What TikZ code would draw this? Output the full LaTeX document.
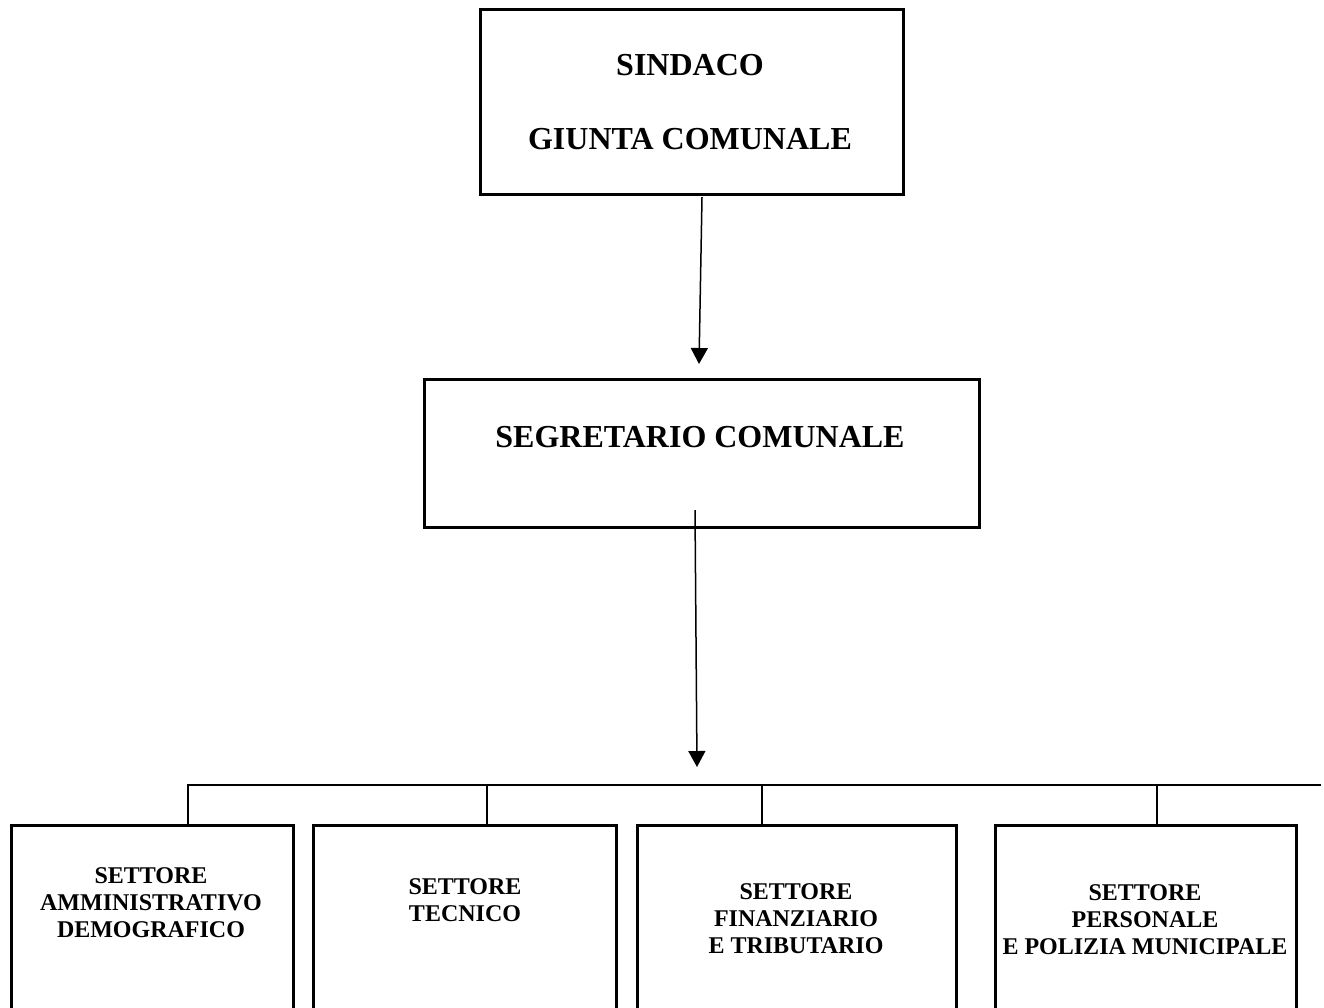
\documentclass[tikz,border=0pt]{standalone}
\usepackage{fontspec}
\setmainfont{Liberation Serif}
\usetikzlibrary{arrows.meta}
\tikzset{
  boxline/.style={draw=black, line width=2.5pt},
  arrowline/.style={draw=black, line width=1.5pt, -{Triangle[length=16pt,width=17pt]}},
  branch/.style={draw=black, line width=2.3pt},
  bigtext/.style={font=\fontsize{32}{34}\selectfont\bfseries, inner sep=0pt, anchor=base},
  smalltext/.style={font=\fontsize{24}{27.3}\selectfont\bfseries, inner sep=0pt, align=center, anchor=north},
}
\begin{document}
\begin{tikzpicture}[x=1pt,y=-1pt]
\useasboundingbox (0,0) rectangle (1324,1007);
\fill[white] (0,0) rectangle (1324,1007);
\clip (0,0) rectangle (1324,1007);

% top box
\node[boxline, inner sep=0pt, minimum width=423pt, minimum height=185pt, anchor=north west] (sind) at (479,8) {};
\node[bigtext] (t1) at (690,75) {SINDACO};
\node[bigtext] (t2) at (690,149) {GIUNTA COMUNALE};

% middle box
\node[boxline, inner sep=0pt, minimum width=555pt, minimum height=148pt, anchor=north west] (segr) at (423,378) {};
\node[bigtext] (t3) at (700,447) {SEGRETARIO COMUNALE};

% arrows
\coordinate (a1s) at (702,197);
\coordinate (a1e) at (699,364);
\draw[arrowline] (a1s) -- (a1e);
\coordinate (a2s) at (695,510);
\coordinate (a2e) at (697,767);
\draw[arrowline] (a2s) -- (a2e);

% horizontal bar
\coordinate (hl) at (187,785);
\coordinate (hr) at (1321,785);
\draw[branch] (hl) -- (hr);

% bottom boxes (cut by page bottom)
\node[boxline, inner sep=0pt, minimum width=282pt, minimum height=220pt, anchor=north west] (b1) at (10,824) {};
\node[boxline, inner sep=0pt, minimum width=303pt, minimum height=220pt, anchor=north west] (b2) at (312,824) {};
\node[boxline, inner sep=0pt, minimum width=319pt, minimum height=220pt, anchor=north west] (b3) at (636,824) {};
\node[boxline, inner sep=0pt, minimum width=301pt, minimum height=220pt, anchor=north west] (b4) at (994,824) {};

% drops
\coordinate (d1) at (188,785);
\coordinate (d2) at (487,785);
\coordinate (d3) at (762,785);
\coordinate (d4) at (1157,785);
\draw[branch] (d1) -- (d1 |- b1.north);
\draw[branch] (d2) -- (d2 |- b2.north);
\draw[branch] (d3) -- (d3 |- b3.north);
\draw[branch] (d4) -- (d4 |- b4.north);

% bottom texts
\node[smalltext] (s1) at (151,867) {SETTORE\\AMMINISTRATIVO\\DEMOGRAFICO};
\node[smalltext] (s2) at (465,878) {SETTORE\\TECNICO};
\node[smalltext] (s3) at (796,883) {SETTORE\\FINANZIARIO\\E TRIBUTARIO};
\node[smalltext] (s4) at (1145,884) {SETTORE\\PERSONALE\\E POLIZIA MUNICIPALE};
\end{tikzpicture}
\end{document}
